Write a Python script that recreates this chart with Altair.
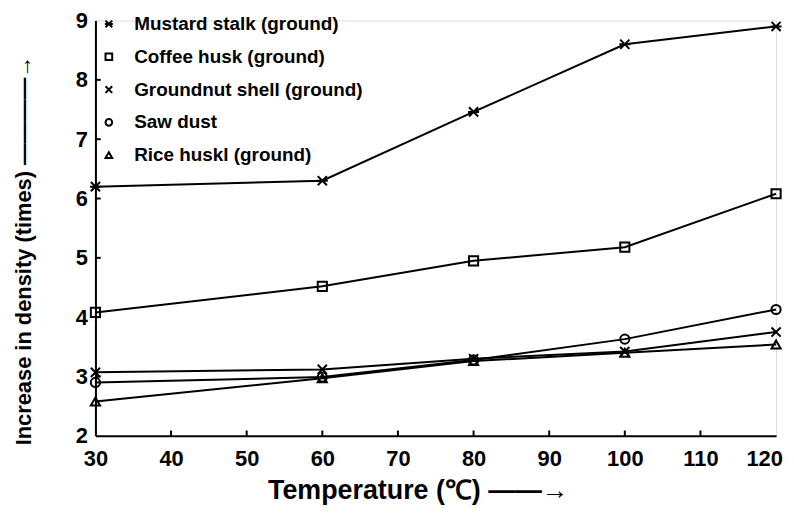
import altair as alt
import pandas as pd

temps = [30, 60, 80, 100, 120]
series_names = ["Mustard stalk (ground)", "Coffee husk (ground)", "Groundnut shell (ground)",
                "Saw dust", "Rice huskl (ground)"]
mustard = [6.2, 6.3, 7.46, 8.6, 8.9]
coffee = [4.08, 4.52, 4.95, 5.18, 6.08]
groundnut = [3.07, 3.12, 3.3, 3.42, 3.75]
sawdust = [2.9, 2.99, 3.28, 3.63, 4.13]
rice = [2.58, 2.97, 3.26, 3.4, 3.54]
x_ticks = [40, 50, 60, 70, 80, 90, 100, 110]
y_ticks = [3, 4, 5, 6, 7, 8]

rows = []
for name, vals in zip(series_names, [mustard, coffee, groundnut, sawdust, rice]):
    for t, v in zip(temps, vals):
        rows.append({"Temperature": t, "Density": v, "Material": name})
df = pd.DataFrame(rows)

FONT = "Liberation Sans, Arial, sans-serif"
shapes = [
    "M-1,-1L1,1M-1,1L1,-1M-1.2,0L1.2,0",
    "square",
    "M-1,-1L1,1M-1,1L1,-1",
    "circle",
    "triangle-up",
]

W, H = 685, 418

xs = alt.Scale(domain=[30, 120], nice=False, zero=False)
ys = alt.Scale(domain=[2, 9], nice=False, zero=False)

xax = alt.Axis(values=list(range(30, 121, 10)), format="d", ticks=False, tickSize=0, grid=False,
               labelFont=FONT, labelFontSize=22, labelFontWeight="bold", labelColor="black",
               labelPadding=13, labelFlush=False,
               labelOffset={"condition": {"test": "datum.value == 120", "value": -12}, "value": 0},
               domainColor="black", domainWidth=2,
               title="Temperature (℃)   ——→", titleFont=FONT, titleFontSize=27,
               titleFontWeight="bold", titleColor="black", titlePadding=8,
               titleX=W / 2 - 18)
yax = alt.Axis(values=list(range(2, 10)), format="d", ticks=False, tickSize=0, grid=False,
               labelFont=FONT, labelFontSize=22, labelFontWeight="bold", labelColor="black",
               labelPadding=8, labelFlush=False, domainColor="black", domainWidth=2,
               title="Increase in density (times)  ————→", titleFont=FONT, titleFontSize=22,
               titleFontWeight="bold", titleColor="black", titlePadding=40,
               titleY=H / 2 + 22)

base = alt.Chart(df)
lines = base.mark_line(color="black", strokeWidth=2).encode(
    x=alt.X("Temperature:Q", scale=xs, axis=xax),
    y=alt.Y("Density:Q", scale=ys, axis=yax),
    detail="Material:N",
)
points = base.mark_point(filled=False, color="black", strokeWidth=2, size=85, opacity=1).encode(
    x=alt.X("Temperature:Q", scale=xs),
    y=alt.Y("Density:Q", scale=ys),
    shape=alt.Shape("Material:N", scale=alt.Scale(domain=series_names, range=shapes),
                    legend=alt.Legend(title=None, orient="none", legendX=4, legendY=-6,
                                      labelFont=FONT, labelFontSize=19, labelFontWeight="bold",
                                      labelColor="black", symbolStrokeColor="black",
                                      symbolStrokeWidth=2, symbolFillColor="white",
                                      symbolSize=45, labelOffset=16, rowPadding=13,
                                      labelLimit=400)),
)

xt = pd.DataFrame({"x": x_ticks, "y": [2.0] * len(x_ticks), "y2": [2.09] * len(x_ticks)})
yt = pd.DataFrame({"y": y_ticks, "x": [30.0] * len(y_ticks), "x2": [30.7] * len(y_ticks)})
xtick_layer = alt.Chart(xt).mark_rule(color="black", strokeWidth=2).encode(
    x=alt.X("x:Q", scale=xs), y=alt.Y("y:Q", scale=ys), y2="y2:Q")
ytick_layer = alt.Chart(yt).mark_rule(color="black", strokeWidth=2).encode(
    y=alt.Y("y:Q", scale=ys), x=alt.X("x:Q", scale=xs), x2="x2:Q")

chart = alt.layer(lines, points, xtick_layer, ytick_layer).properties(
    width=W, height=H, padding={"left": 4, "top": 0, "right": 0, "bottom": 0}
).configure_view(stroke="black", strokeWidth=2).configure(background="white")

chart.save("out.html", embed_options={"renderer": "svg", "actions": False})
